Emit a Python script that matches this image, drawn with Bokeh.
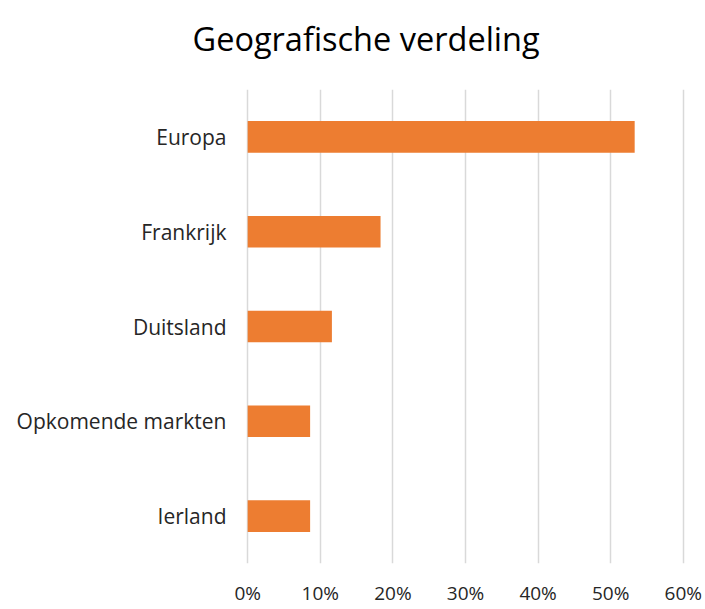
from bokeh.plotting import figure
from bokeh.models import FactorRange, Range1d, FixedTicker, NumeralTickFormatter, ColumnDataSource, Title
from bokeh.embed import file_html
from bokeh.resources import INLINE

# data (top to bottom as shown)
categories = ["Europa", "Frankrijk", "Duitsland", "Opkomende markten", "Ierland"]
shares = [0.533, 0.183, 0.116, 0.086, 0.086]
tick_values = [0.0, 0.1, 0.2, 0.3, 0.4, 0.5, 0.6]
title_text = "Geografische verdeling"

FONT = "Open Sans"
bar_color = "#ED7D31"

src = ColumnDataSource(dict(cat=categories, val=shares))

p = figure(
    width=705, height=609,
    y_range=FactorRange(factors=list(reversed(categories)), range_padding=0),
    x_range=Range1d(-0.003, 0.603),
    output_backend="svg", toolbar_location=None,
    min_border_left=245, min_border_right=20, min_border_top=89, min_border_bottom=46,
)
p.hbar(y="cat", right="val", left=0, height=0.333, source=src,
       fill_color=bar_color, line_color=None)

p.outline_line_color = None
p.background_fill_color = "white"
p.border_fill_color = "white"

# spacer between frame and title (added first -> nearest the frame)
p.add_layout(Title(text=" ", text_font_size="1px", standoff=13), "above")
# main title
p.add_layout(Title(text=title_text, text_font=FONT, text_font_size="32.5px",
                   text_font_style="normal", text_color="#000000",
                   align="left", offset=-53, standoff=26), "above")

p.xaxis.ticker = FixedTicker(ticks=tick_values)
p.xaxis.formatter = NumeralTickFormatter(format="0%")
p.xaxis.axis_line_color = None
p.xaxis.major_tick_line_color = None
p.xaxis.minor_tick_line_color = None
p.xaxis.major_tick_out = 0
p.xaxis.major_tick_in = 0
p.xaxis.minor_tick_out = 0
p.xaxis.major_label_text_font = FONT
p.xaxis.major_label_text_font_size = "19px"
p.xaxis.major_label_text_color = "#262626"
p.xaxis.major_label_standoff = 16

p.yaxis.axis_line_color = None
p.yaxis.major_tick_line_color = None
p.yaxis.minor_tick_line_color = None
p.yaxis.major_tick_out = 0
p.yaxis.major_tick_in = 0
p.yaxis.minor_tick_out = 0
p.yaxis.major_label_text_font = FONT
p.yaxis.major_label_text_font_size = "21px"
p.yaxis.major_label_text_color = "#262626"
p.yaxis.major_label_standoff = 19

p.xgrid.ticker = FixedTicker(ticks=tick_values)
p.xgrid.grid_line_color = "#d9d9d9"
p.xgrid.grid_line_width = 1.5
p.ygrid.grid_line_color = None

open("out.html", "w").write(file_html(p, INLINE))
